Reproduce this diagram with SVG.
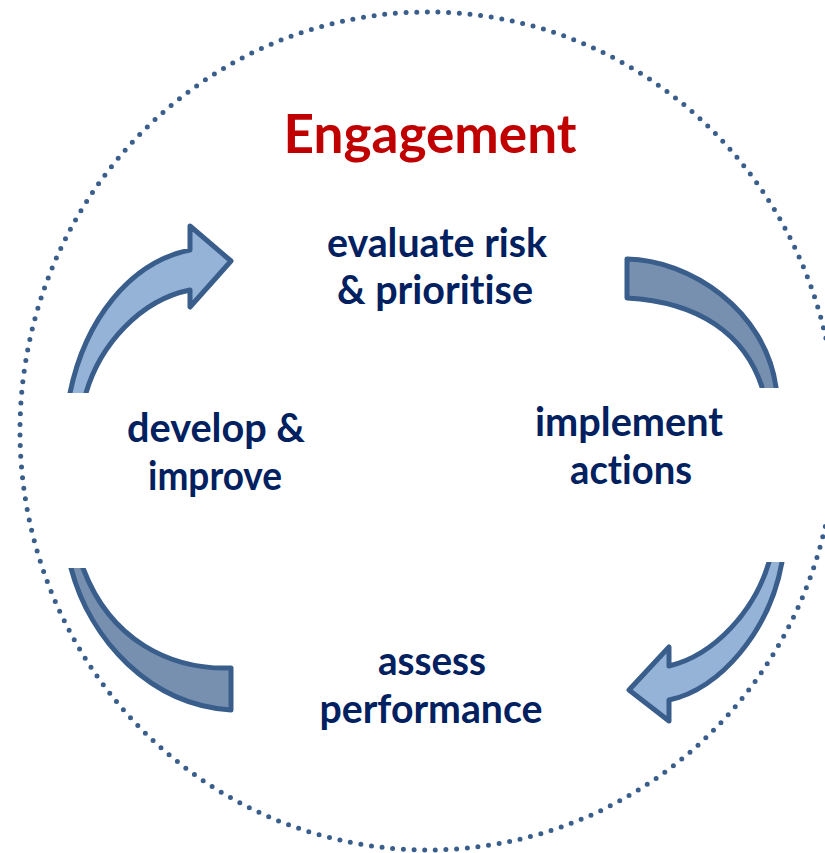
<svg xmlns="http://www.w3.org/2000/svg" width="825" height="853" viewBox="0 0 825 853">
<defs>
<style>
.ring{fill:none;stroke:#3A5E8C;stroke-width:5;stroke-linecap:round;stroke-dasharray:0 10.7}
.arr{stroke:#3A5E8C;stroke-width:5;stroke-linejoin:round}
.light{fill:#95B3D7}
.dark{fill:#7890AF}
.lbl{font-family:Lato,"Open Sans","Liberation Sans",sans-serif;font-weight:bold;font-size:41px;fill:#002060;text-anchor:middle;font-variant-ligatures:none}
.title{font-family:Lato,"Open Sans","Liberation Sans",sans-serif;font-weight:bold;font-size:54px;fill:#C00000;text-anchor:middle;font-variant-ligatures:none}
</style>
<clipPath id="cTL"><rect x="0" y="0" width="420" height="393"/></clipPath>
<clipPath id="cTR"><rect x="420" y="0" width="405" height="388"/></clipPath>
<clipPath id="cBR"><rect x="420" y="562" width="405" height="291"/></clipPath>
<clipPath id="cBL"><rect x="0" y="568" width="420" height="285"/></clipPath>
</defs>
<rect width="825" height="853" fill="#FFFFFF"/>
<ellipse class="ring" cx="428" cy="431" rx="408" ry="419"/>
<g id="connectors">
<path id="arrow-top-left" class="arr light" clip-path="url(#cTL)" d="M67,410 L70,393 C85,320 130,262 190,250 L190,226 L231,261 L190,307 L190,290 C140,300 100,345 86,393 L83,410 Z"/>
<path id="arrow-top-right" class="arr dark" clip-path="url(#cTR)" d="M627,259 C690,260 765,310 776,387 L778,405 L764,405 L762,387 C745,335 700,302 627,298 Z"/>
<path id="arrow-bottom-right" class="arr light" clip-path="url(#cBR)" d="M784,545 L782,562 C770,630 720,690 669,700 L669,721 L629,690 L669,647 L669,666 C715,655 755,610 769,562 L771,545 Z"/>
<path id="arrow-bottom-left" class="arr dark" clip-path="url(#cBL)" d="M68,550 L71,568 C90,640 150,705 231,710 L231,668 C170,670 110,640 83,568 L80,550 Z"/>
</g>
<g id="title"><text class="title" x="430" y="153" textLength="293" lengthAdjust="spacingAndGlyphs">Engagement</text></g>
<g id="node-evaluate">
<text class="lbl" x="437" y="257" textLength="220" lengthAdjust="spacingAndGlyphs">evaluate risk</text>
<text class="lbl" x="435" y="304" textLength="196" lengthAdjust="spacingAndGlyphs">&amp; prioritise</text>
</g>
<g id="node-implement">
<text class="lbl" x="629" y="436" textLength="188" lengthAdjust="spacingAndGlyphs">implement</text>
<text class="lbl" x="631" y="484" textLength="122" lengthAdjust="spacingAndGlyphs">actions</text>
</g>
<g id="node-assess">
<text class="lbl" x="432" y="675" textLength="108" lengthAdjust="spacingAndGlyphs">assess</text>
<text class="lbl" x="431" y="723" textLength="223" lengthAdjust="spacingAndGlyphs">performance</text>
</g>
<g id="node-develop">
<text class="lbl" x="216" y="442" textLength="178" lengthAdjust="spacingAndGlyphs">develop &amp;</text>
<text class="lbl" x="215" y="490" textLength="134" lengthAdjust="spacingAndGlyphs">improve</text>
</g>
</svg>
